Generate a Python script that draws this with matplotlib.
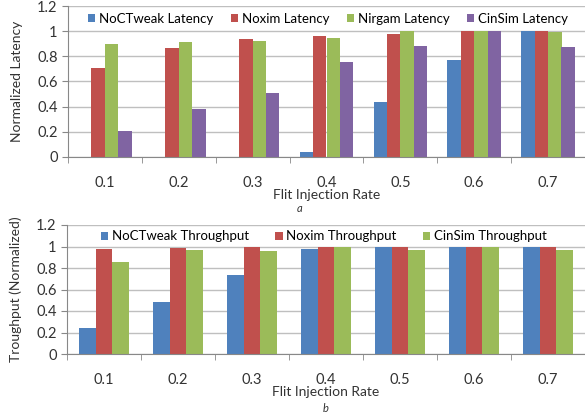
import matplotlib
matplotlib.use("Agg")
import matplotlib.pyplot as plt
import numpy as np

plt.rcParams["font.family"] = ["Lato", "DejaVu Sans"]

rates = ["0.1", "0.2", "0.3", "0.4", "0.5", "0.6", "0.7"]

# panel a: normalized latency
lat_noctweak = [0.0, 0.0, 0.0, 0.04, 0.44, 0.77, 1.0]
lat_noxim = [0.71, 0.87, 0.935, 0.96, 0.98, 1.0, 1.0]
lat_nirgam = [0.90, 0.915, 0.925, 0.945, 1.0, 1.0, 0.99]
lat_cinsim = [0.21, 0.38, 0.51, 0.755, 0.88, 1.0, 0.875]

# panel b: normalized throughput
thr_noctweak = [0.245, 0.485, 0.735, 0.975, 1.0, 1.0, 1.0]
thr_noxim = [0.98, 0.99, 1.0, 1.0, 1.0, 1.0, 0.995]
thr_cinsim = [0.86, 0.965, 0.96, 1.0, 0.97, 1.0, 0.97]

BLUE, RED, GREEN, PURPLE = "#4F81BD", "#C0504D", "#9BBB59", "#8064A2"
GRID = "#BFBFBF"

W, H = 585, 420
fig = plt.figure(figsize=(W / 100, H / 100), dpi=100)


def make_ax(left, top, right, bottom):
    return fig.add_axes([left / W, 1 - bottom / H, (right - left) / W, (bottom - top) / H])


def style(ax, ylabel):
    ax.set_xlim(-0.5, len(rates) - 0.5)
    ax.set_ylim(0, 1.2)
    ax.set_yticks(np.arange(0, 1.21, 0.2))
    ax.set_yticklabels(["0", "0.2", "0.4", "0.6", "0.8", "1", "1.2"])
    ax.set_xticks(np.arange(len(rates)))
    ax.set_xticklabels(rates)
    ax.set_xticks(np.arange(len(rates) + 1) - 0.5, minor=True)
    ax.tick_params(axis="x", which="major", length=0, labelsize=10.5, pad=14, colors="#333333")
    ax.tick_params(axis="x", which="minor", length=4, color="#888888")
    ax.tick_params(axis="y", length=4, color="#888888", labelsize=10.5, colors="#333333")
    ax.yaxis.grid(True, color=GRID, linewidth=1.0)
    ax.set_axisbelow(True)
    for s in ["top", "right"]:
        ax.spines[s].set_visible(False)
    ax.spines["left"].set_color("#888888")
    ax.spines["bottom"].set_color("#888888")
    ax.set_ylabel(ylabel, fontsize=10, color="#333333", labelpad=10)
    ax.set_xlabel("Flit Injection Rate", fontsize=10, color="#333333", labelpad=-1)


x = np.arange(len(rates))
leg_kw = dict(frameon=False, fontsize=9.5, handlelength=0.55, handleheight=0.55,
              handletextpad=0.3, borderaxespad=0.3)

# ===== panel a =====
ax = make_ax(68, 6, 585, 157)
bw = 1 / 5.5
series = [(lat_noctweak, BLUE, "NoCTweak Latency"), (lat_noxim, RED, "Noxim Latency"),
          (lat_nirgam, GREEN, "Nirgam Latency"), (lat_cinsim, PURPLE, "CinSim Latency")]
for i, (vals, c, lab) in enumerate(series):
    ax.bar(x + (i - 1.5) * bw, vals, bw, color=c, label=lab, clip_on=False)
style(ax, "Normalized Latency")
ax.legend(loc="upper center", bbox_to_anchor=(0.503, 1.015), ncol=4,
          columnspacing=1.3, **leg_kw)
fig.text(300 / W, 1 - 208 / H, "a", fontsize=8, style="italic", ha="center", va="center", color="#333333")

# ===== panel b =====
ax = make_ax(67, 225, 585, 354)
bw = 1 / 4.5
series = [(thr_noctweak, BLUE, "NoCTweak Throughput"), (thr_noxim, RED, "Noxim Throughput"),
          (thr_cinsim, GREEN, "CinSim Throughput")]
for i, (vals, c, lab) in enumerate(series):
    ax.bar(x + (i - 1) * bw, vals, bw, color=c, label=lab)
style(ax, "Troughput (Normalized)")
ax.legend(loc="upper center", bbox_to_anchor=(0.496, 1.03), ncol=3,
          columnspacing=2.0, **leg_kw)
fig.text(326 / W, 1 - 409 / H, "b", fontsize=8, style="italic", ha="center", va="center", color="#333333")

plt.savefig("out.png", dpi=100, facecolor="white")
